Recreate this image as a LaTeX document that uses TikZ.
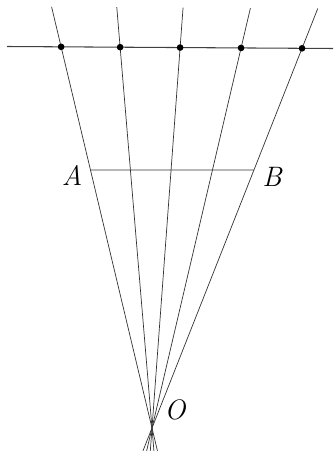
\documentclass[tikz,border=0pt]{standalone}
\usetikzlibrary{calc}
\begin{document}
\begin{tikzpicture}[x=0.03cm,y=-0.03cm,
  ray/.style={draw=black!80,line width=0.6pt},
  baseline/.style={draw=black!75,line width=0.9pt},
  dot/.style={circle,fill=black,inner sep=0pt,minimum size=0.2cm},
  lab/.style={font=\fontsize{24}{24}\selectfont\itshape,inner sep=0pt}]
\useasboundingbox (0,0) rectangle (333,452);
\coordinate (O) at (152,428);
\coordinate (L) at (7,46.5);
\coordinate (R) at (333,48.5);
\coordinate (P1) at ($(L)!0.166!(R)$);
\coordinate (P2) at ($(L)!0.347!(R)$);
\coordinate (P3) at ($(L)!0.531!(R)$);
\coordinate (P4) at ($(L)!0.718!(R)$);
\coordinate (P5) at ($(L)!0.905!(R)$);
\draw[baseline] (L) -- (R);
\foreach \i in {1,...,5}{
  \coordinate (T\i) at ($(O)!1.105!(P\i)$);
  \coordinate (U\i) at ($(O)!-0.06!(P\i)$);
  \draw[ray] (U\i) -- (T\i);
}
\foreach \i in {1,...,5}{ \node[dot] (D\i) at (P\i) {}; }
\coordinate (A) at ($(O)!0.677!(P1)$);
\coordinate (Ax) at ($(A)+(300,0)$);
\coordinate (B) at (intersection of O--P5 and A--Ax);
\draw[ray] (A) -- (B);
\node[lab] (la) at (72,175) {A};
\node[lab] (lb) at (272,177) {B};
\node[lab] (lo) at (175,410) {O};
\end{tikzpicture}
\end{document}
